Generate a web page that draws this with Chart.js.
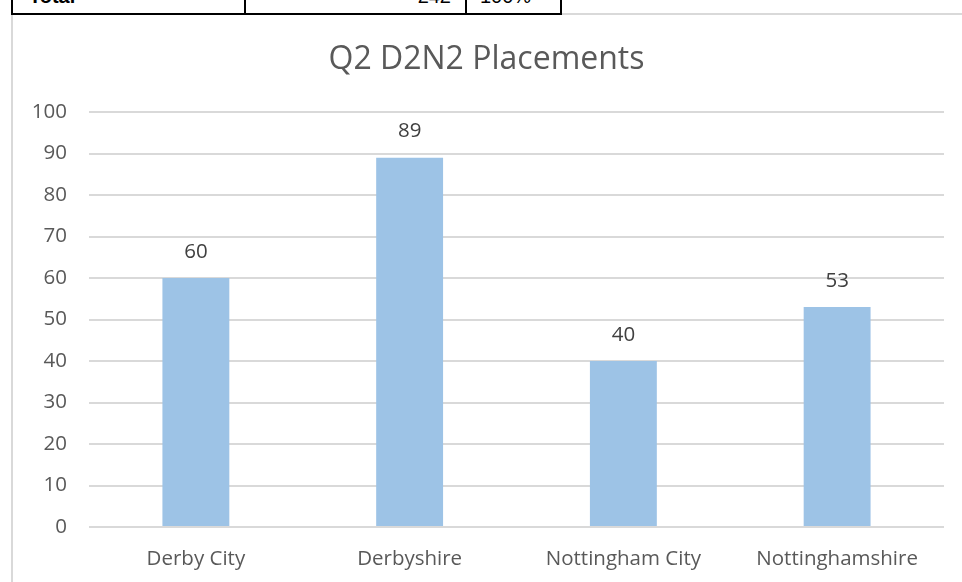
<!DOCTYPE html>
<html>
<head>
<meta charset="utf-8">
<script src="https://cdn.jsdelivr.net/npm/chart.js@4"></script>
<style>
  html, body { margin:0; padding:0; background:#fff; width:962px; height:582px; overflow:hidden; }
  #frame { position:absolute; left:11px; top:13px; width:1000px; height:600px; border-left:2px solid #D9D9D9; border-top:2px solid #D9D9D9; box-sizing:border-box; }
  #tbl { position:absolute; left:11px; top:-21px; border-collapse:collapse; font-family:"Liberation Sans", Arial, sans-serif; font-size:20px; }
  #tbl td { border:2px solid #000; height:25px; padding:0 8px 7px 8px; vertical-align:bottom; line-height:20px; }
  #c { position:absolute; left:0; top:0; }
</style>
</head>
<body>
<div id="frame"></div>
<table id="tbl"><tr>
  <td style="width:207px;font-weight:bold;padding-left:16px;">Total</td>
  <td style="width:197px;text-align:right;padding-right:14px;">242</td>
  <td style="width:72px;padding-left:13px;">100%</td>
</tr></table>
<canvas id="c" width="962" height="582"></canvas>
<script>
const titleText = "Q2 D2N2 Placements";
const categories = ["Derby City", "Derbyshire", "Nottingham City", "Nottinghamshire"];
const placements = [60, 89, 40, 53];
const yTicks = [0, 10, 20, 30, 40, 50, 60, 70, 80, 90, 100];

const FONT = "'Open Sans', 'Noto Sans', sans-serif";

const valueLabels = {
  id: 'valueLabels',
  afterDatasetsDraw(chart) {
    const ctx = chart.ctx;
    ctx.save();
    ctx.font = "20.5px " + FONT;
    ctx.fillStyle = "#404040";
    ctx.textAlign = "center";
    ctx.textBaseline = "middle";
    chart.data.datasets.forEach((ds, di) => {
      chart.getDatasetMeta(di).data.forEach((bar, i) => {
        ctx.fillText(String(ds.data[i]), bar.x, bar.y - 26);
      });
    });
    ctx.restore();
  }
};

new Chart(document.getElementById('c'), {
  type: 'bar',
  data: {
    labels: categories,
    datasets: [{
      label: titleText,
      data: placements,
      backgroundColor: '#9DC3E6',
      borderWidth: 0,
      barPercentage: 0.313,
      categoryPercentage: 1.0
    }]
  },
  options: {
    responsive: false,
    animation: false,
    devicePixelRatio: 1,
    layout: { padding: { left: 29, right: 18, top: 0, bottom: 0 } },
    plugins: {
      legend: { display: false },
      tooltip: { enabled: false },
      title: {
        display: true,
        text: titleText,
        color: '#595959',
        font: { family: FONT, size: 32, weight: 'normal', lineHeight: 1.2 },
        padding: { top: 40.5, bottom: 33.1 }
      }
    },
    scales: {
      x: {
        grid: { display: false },
        border: { display: false },
        ticks: { color: '#595959', font: { family: FONT, size: 20.5 }, padding: 12, maxRotation: 0, autoSkip: false },
        afterFit(scale) { scale.height = 55; }
      },
      y: {
        min: 0, max: 100,
        afterBuildTicks(scale) { scale.ticks = yTicks.map(v => ({ value: v })); },
        grid: { color: '#D9D9D9', lineWidth: 2, drawTicks: false },
        border: { display: false },
        ticks: { color: '#595959', font: { family: FONT, size: 20.5 }, padding: 22 },
        afterFit(scale) { scale.width = 60; }
      }
    }
  },
  plugins: [valueLabels]
});
</script>
</body>
</html>
